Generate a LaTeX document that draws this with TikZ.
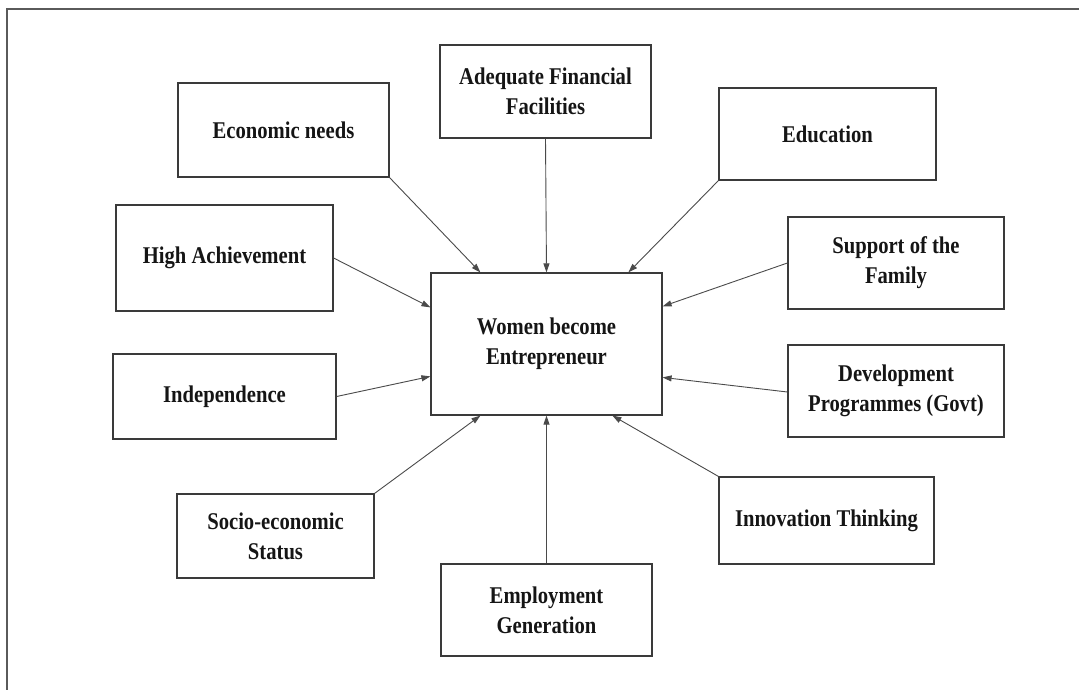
\documentclass[tikz,border=0pt]{standalone}
\usepackage{fontspec}
\setmainfont{Liberation Serif}[FakeStretch=0.86]
\usetikzlibrary{arrows.meta,calc}
\definecolor{framegray}{HTML}{5A5A5A}
\definecolor{boxgray}{HTML}{3A3A3A}
\definecolor{linkgray}{HTML}{4A4A4A}
\definecolor{inkblack}{HTML}{151515}
\begin{document}
\begin{tikzpicture}[x=1pt,y=-1pt,
  factor/.style={draw=boxgray, line width=1.2pt, inner sep=0pt, align=center,
    text=inkblack, font=\bfseries\fontsize{24}{30}\selectfont},
  link/.style={draw=linkgray, line width=0.9pt,
    -{Triangle[length=9pt,width=6pt]}}]
\useasboundingbox (0,0) rectangle (1079,690);
% outer frame (top and left edges)
\draw[framegray, line width=1.5pt] (1079,9) -- (7,9) -- (7,690);

% central box
\node[factor, minimum width=231pt, minimum height=142pt] (ctr) at (546.5,344)
  {Women become\\Entrepreneur};

% surrounding factors
\node[factor, minimum width=211pt, minimum height=94pt]  (econ)  at (283.5,130)  {Economic needs};
\node[factor, minimum width=211pt, minimum height=93pt]  (fin)   at (545.5,91.5) {Adequate Financial\\Facilities};
\node[factor, minimum width=217pt, minimum height=92pt]  (edu)   at (827.5,134)  {Education};
\node[factor, minimum width=217pt, minimum height=106pt] (high)  at (224.5,258)  {High Achievement};
\node[factor, minimum width=216pt, minimum height=92pt]  (fam)   at (896,263)    {Support of the\\Family};
\node[factor, minimum width=223pt, minimum height=85pt]  (indep) at (224.5,396.5){Independence};
\node[factor, minimum width=216pt, minimum height=92pt]  (dev)   at (896,391)    {Development\\Programmes (Govt)};
\node[factor, minimum width=197pt, minimum height=84pt]  (socio) at (275.5,536)  {Socio-economic\\Status};
\node[factor, minimum width=215pt, minimum height=87pt]  (innov) at (826.5,520.5){Innovation Thinking};
\node[factor, minimum width=211pt, minimum height=92pt]  (emp)   at (546.5,610)  {Employment\\Generation};

% arrow targets on the central box
\coordinate (tA) at ($(ctr.north west)+(50,0)$);
\coordinate (tC) at ($(ctr.north west)+(198,0)$);
\coordinate (lA) at ($(ctr.north west)+(0,35)$);
\coordinate (lB) at ($(ctr.north west)+(0,104)$);
\coordinate (rA) at ($(ctr.north east)+(0,34)$);
\coordinate (rB) at ($(ctr.north east)+(0,105)$);
\coordinate (bA) at ($(ctr.south west)+(50,0)$);
\coordinate (bC) at ($(ctr.south west)+(182,0)$);

% connectors
\draw[link] (econ.south east) -- (tA);
\draw[link] (fin.south) -- (ctr.north);
\draw[link] (edu.south west) -- (tC);
\draw[link] (high.east) -- (lA);
\draw[link] (indep.east) -- (lB);
\draw[link] (fam.west) -- (rA);
\draw[link] ($(dev.west)+(0,1)$) -- (rB);
\draw[link] (socio.north east) -- (bA);
\draw[link] (emp.north) -- (ctr.south);
\draw[link] (innov.north west) -- (bC);
\end{tikzpicture}
\end{document}
